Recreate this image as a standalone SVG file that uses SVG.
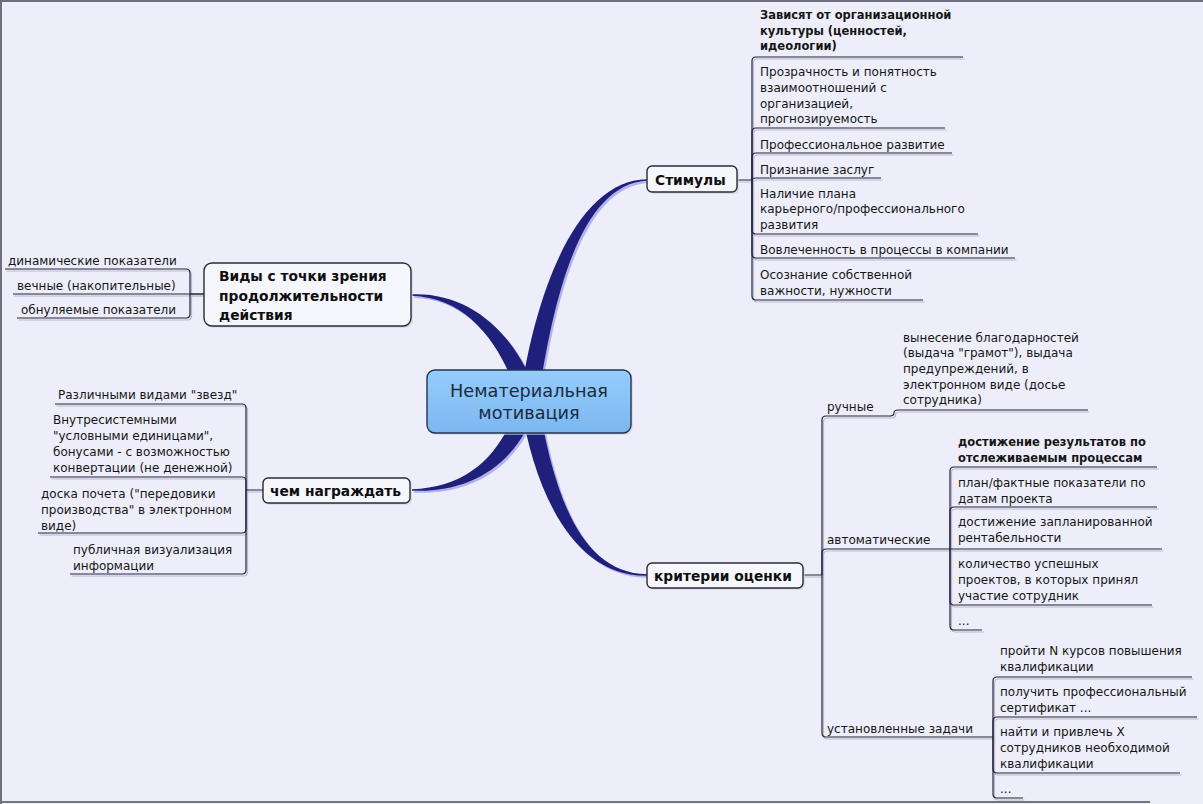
<svg xmlns="http://www.w3.org/2000/svg" xmlns:xlink="http://www.w3.org/1999/xlink" width="1203" height="804" viewBox="0 0 1203 804">
<defs>
<linearGradient id="cg" x1="0" y1="0" x2="0" y2="1">
<stop offset="0" stop-color="#95cdfb"/>
<stop offset="1" stop-color="#7cb7f1"/>
</linearGradient>
<style>
text{font-family:"DejaVu Sans",Verdana,sans-serif;fill:#161616}
.leaf{font-size:12px}
.b{font-weight:bold;font-size:11.5px}
.branch{font-size:13.8px;font-weight:bold;fill:#0e0e0e}
.center{font-size:17.7px;fill:#1c2a40;text-anchor:middle}
.box{fill:#f6f6fd;stroke:#2b2b33;stroke-width:1.4}
.boxsh{fill:#cfcfe0;opacity:.6}
.line{fill:none;stroke:#23233a;stroke-width:1.2}
.lsh{fill:none;stroke:#b9b9d0;stroke-width:1.2}
.main{fill:#1f1f7c}
.mainsh{fill:#a3a3ea;opacity:.8}
</style>
</defs>
<rect x="0" y="0" width="1203" height="804" fill="#eeeefa"/>
<path d="M1,804 V1 H1203" fill="none" stroke="#6e6e7c" stroke-width="2"/>
<path d="M0,802 H1150" fill="none" stroke="#74747f" stroke-width="2"/>

<g id="connectors">
<g id="main-branches">
<g transform="translate(2,2)" class="mainsh">
<path d="M647,179.3 C578,180 536,288 520,399 L538,401 C554,292 582,184 647,180.7 Z"/>
<path d="M412,294.3 C471,292 518,335 538,398 L520,402 C502,345 469,298 412,295.7 Z"/>
<path d="M412,490.7 C471,493 518,465 538,402 L520,398 C502,455 469,487 412,489.3 Z"/>
<path d="M647,575.7 C578,577 536,502 520,401 L538,399 C554,498 582,573 647,574.3 Z"/>
</g>
<g class="main">
<path d="M647,179.3 C578,180 536,288 520,399 L538,401 C554,292 582,184 647,180.7 Z"/>
<path d="M412,294.3 C471,292 518,335 538,398 L520,402 C502,345 469,298 412,295.7 Z"/>
<path d="M412,490.7 C471,493 518,465 538,402 L520,398 C502,455 469,487 412,489.3 Z"/>
<path d="M647,575.7 C578,577 536,502 520,401 L538,399 C554,498 582,573 647,574.3 Z"/>
</g>
</g>
<use xlink:href="#leaf-lines" href="#leaf-lines" class="lsh" transform="translate(1.5,2)"/>
<g class="line">
<g id="leaf-lines">
<path d="M737,180 H752 V61 Q752,57 756,57 H963"/>
<path d="M752,180 V132 Q752,128 756,128 H945"/>
<path d="M752,180 V157 Q752,153 756,153 H952"/>
<path d="M752,180 Q752,178 756,178 H881"/>
<path d="M752,180 V230 Q752,234 756,234 H978"/>
<path d="M752,180 V254 Q752,258 756,258 H1015"/>
<path d="M752,180 V296 Q752,300 756,300 H923"/>
<path d="M204,294 H190 V273 Q190,269 186,269 H5"/>
<path d="M204,294 H13"/>
<path d="M190,294 V314 Q190,318 186,318 H17"/>
<path d="M263,490 H246 V408 Q246,404 242,404 H55"/>
<path d="M246,490 V481 Q246,477 242,477 H50"/>
<path d="M246,490 V529 Q246,533 242,533 H38"/>
<path d="M246,490 V570 Q246,574 242,574 H70"/>
<path d="M803,575 H822 V420 Q822,416 826,416 H890 Q894,416 894,413 Q894,410 898,410 H1088"/>
<path d="M822,575 V553 Q822,549 826,549 H950"/>
<path d="M822,575 V733 Q822,737 826,737 H993"/>
<path d="M950,549 V471 Q950,467 954,467 H1157"/>
<path d="M950,549 V511 Q950,507 954,507 H1157"/>
<path d="M950,549 H1162"/>
<path d="M950,549 V601 Q950,605 954,605 H1152"/>
<path d="M950,549 V626 Q950,630 954,630 H982"/>
<path d="M993,737 V681 Q993,677 997,677 H1192"/>
<path d="M993,737 V721 Q993,717 997,717 H1197"/>
<path d="M993,737 V769 Q993,773 997,773 H1180"/>
<path d="M993,737 V794 Q993,798 997,798 H1023"/>
</g>
</g>
</g>

<g id="center">
<rect x="429" y="372" width="204" height="63" rx="8" class="boxsh"/>
<rect x="427" y="370" width="204" height="63" rx="8" fill="url(#cg)" stroke="#22344f" stroke-width="1.4"/>
<text class="center" x="529" y="397">Нематериальная</text>
<text class="center" x="529" y="419">мотивация</text>
</g>

<g id="stimuly">
<rect x="649" y="168" width="90" height="26" rx="5" class="boxsh"/>
<rect x="647" y="166" width="90" height="26" rx="5" class="box"/>
<text class="branch" x="655" y="185">Стимулы</text>
</g>
<g id="vidy">
<rect x="206" y="265" width="207" height="63" rx="8" class="boxsh"/>
<rect x="204" y="263" width="207" height="63" rx="8" class="box"/>
<text class="branch" x="219" y="281">Виды с точки зрения</text>
<text class="branch" x="219" y="300.5">продолжительности</text>
<text class="branch" x="219" y="320">действия</text>
</g>
<g id="chem">
<rect x="265" y="480" width="147" height="25" rx="5" class="boxsh"/>
<rect x="263" y="478" width="147" height="25" rx="5" class="box"/>
<text class="branch" x="270" y="496">чем награждать</text>
</g>
<g id="kriterii">
<rect x="649" y="565" width="156" height="25" rx="5" class="boxsh"/>
<rect x="647" y="563" width="156" height="25" rx="5" class="box"/>
<text class="branch" x="654" y="581">критерии оценки</text>
</g>

<g id="s1"><text class="leaf b" x="760" y="19">Зависят от организационной</text><text class="leaf b" x="760" y="34.5">культуры (ценностей,</text><text class="leaf b" x="760" y="50">идеологии)</text></g>
<g id="s2"><text class="leaf" x="760" y="76">Прозрачность и понятность</text><text class="leaf" x="760" y="92">взаимоотношений с</text><text class="leaf" x="760" y="107.5">организацией,</text><text class="leaf" x="760" y="123">прогнозируемость</text></g>
<g id="s3"><text class="leaf" x="760" y="149">Профессиональное развитие</text></g>
<g id="s4"><text class="leaf" x="760" y="173.5">Признание заслуг</text></g>
<g id="s5"><text class="leaf" x="760" y="197.5">Наличие плана</text><text class="leaf" x="760" y="213">карьерного/профессионального</text><text class="leaf" x="760" y="229">развития</text></g>
<g id="s6"><text class="leaf" x="760" y="254">Вовлеченность в процессы в компании</text></g>
<g id="s7"><text class="leaf" x="760" y="279">Осознание собственной</text><text class="leaf" x="760" y="295">важности, нужности</text></g>

<g id="v1"><text class="leaf" x="8" y="264.5">динамические показатели</text></g>
<g id="v2"><text class="leaf" x="17" y="289.5">вечные (накопительные)</text></g>
<g id="v3"><text class="leaf" x="21" y="313.5">обнуляемые показатели</text></g>

<g id="n1"><text class="leaf" x="58" y="399">Различными видами "звезд"</text></g>
<g id="n2"><text class="leaf" x="53" y="424">Внутресистемными</text><text class="leaf" x="53" y="440">"условными единицами",</text><text class="leaf" x="53" y="456">бонусами - с возможностью</text><text class="leaf" x="53" y="472">конвертации (не денежной)</text></g>
<g id="n3"><text class="leaf" x="41" y="498">доска почета ("передовики</text><text class="leaf" x="41" y="514">производства" в электронном</text><text class="leaf" x="41" y="529.5">виде)</text></g>
<g id="n4"><text class="leaf" x="73" y="554">публичная визуализация</text><text class="leaf" x="73" y="569.5">информации</text></g>

<g id="k-ruchnye"><text class="leaf" x="827" y="411">ручные</text></g>
<g id="k-r1"><text class="leaf" x="903" y="341.5">вынесение благодарностей</text><text class="leaf" x="903" y="357">(выдача "грамот"), выдача</text><text class="leaf" x="903" y="373">предупреждений, в</text><text class="leaf" x="903" y="388.5">электронном виде (досье</text><text class="leaf" x="903" y="404">сотрудника)</text></g>
<g id="k-avto"><text class="leaf" x="827" y="544">автоматические</text></g>
<g id="a1"><text class="leaf b" x="958" y="446">достижение результатов по</text><text class="leaf b" x="958" y="462">отслеживаемым процессам</text></g>
<g id="a2"><text class="leaf" x="958" y="487">план/фактные показатели по</text><text class="leaf" x="958" y="503">датам проекта</text></g>
<g id="a3"><text class="leaf" x="958" y="526">достижение запланированной</text><text class="leaf" x="958" y="542">рентабельности</text></g>
<g id="a4"><text class="leaf" x="958" y="568">количество успешных</text><text class="leaf" x="958" y="583.5">проектов, в которых принял</text><text class="leaf" x="958" y="599.5">участие сотрудник</text></g>
<g id="a5"><text class="leaf" x="958" y="625">...</text></g>
<g id="k-zadachi"><text class="leaf" x="827" y="733">установленные задачи</text></g>
<g id="z1"><text class="leaf" x="1000" y="655">пройти N курсов повышения</text><text class="leaf" x="1000" y="670.5">квалификации</text></g>
<g id="z2"><text class="leaf" x="1000" y="696">получить профессиональный</text><text class="leaf" x="1000" y="712">сертификат ...</text></g>
<g id="z3"><text class="leaf" x="1000" y="735.5">найти и привлечь X</text><text class="leaf" x="1000" y="752">сотрудников необходимой</text><text class="leaf" x="1000" y="768">квалификации</text></g>
<g id="z4"><text class="leaf" x="1000" y="793">...</text></g>
</svg>
